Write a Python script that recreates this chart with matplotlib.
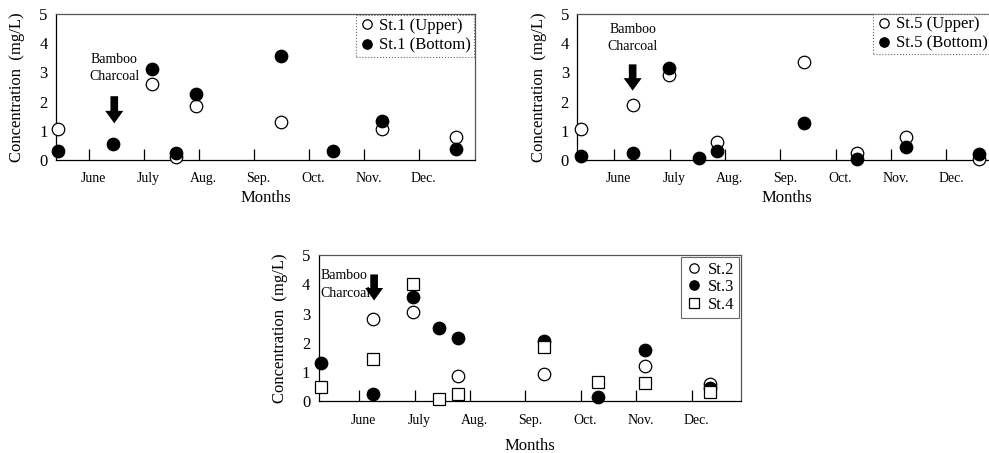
import numpy as np
import matplotlib
matplotlib.use("Agg")
import matplotlib.pyplot as plt

plt.rcParams['font.family'] = ['Liberation Serif', 'DejaVu Serif']

# month axis: tick i = start of month label i (June=1 ... Dec=7)
months = ['June', 'July', 'Aug.', 'Sep.', 'Oct.', 'Nov.', 'Dec.']

# St.1
x1 = [0.44, 1.43, 2.14, 2.59, 2.94, 4.49, 5.44, 6.33, 7.68]
st1_upper = [1.05, None, 2.6, 0.1, 1.85, 1.3, None, 1.05, 0.8]
st1_bottom = [0.3, 0.55, 3.1, 0.25, 2.25, 3.55, 0.3, 1.35, 0.38]

# St.5
x5 = [0.39, 1.33, 1.99, 2.53, 2.86, 4.43, 5.39, 6.27, 7.58]
st5_upper = [1.05, 1.9, 2.9, None, 0.6, 3.35, 0.25, 0.8, 0.05]
st5_bottom = [0.15, 0.25, 3.15, 0.08, 0.3, 1.25, 0.03, 0.45, 0.2]

# St.2 - St.4
x24 = [0.31, 1.25, 1.97, 2.44, 2.79, 4.34, 5.30, 6.16, 7.33]
st2 = [None, 2.8, 3.05, None, 0.85, 0.95, None, 1.22, 0.6]
st3 = [1.3, 0.25, 3.55, 2.5, 2.15, 2.05, 0.14, 1.75, 0.45]
st4 = [0.5, 1.45, 4.0, 0.08, 0.25, 1.85, 0.65, 0.64, 0.33]


def clean(x, y):
    xs = [a for a, b in zip(x, y) if b is not None]
    ys = [b for b in y if b is not None]
    return xs, ys


def setup(ax, xlim, xpad):
    ax.set_xlim(*xlim)
    ax.set_ylim(0, 5)
    ax.set_yticks(range(6))
    ax.tick_params(axis='y', length=0, labelsize=12, pad=6)
    ax.set_xticks(range(1, 8))
    ax.set_xticklabels([])
    ax.set_xticks([m + 0.08 for m in range(1, 8)], minor=True)
    ax.set_xticklabels(months, minor=True, fontsize=10)
    ax.tick_params(axis='x', which='major', direction='in', length=8, width=0.9)
    ax.tick_params(axis='x', which='minor', length=0, pad=9)
    for s in ax.spines.values():
        s.set_linewidth(0.9)
    ax.spines['top'].set_color('#555555')
    ax.spines['right'].set_color('#555555')
    ax.set_ylabel('Concentration  (mg/L)', fontsize=12, labelpad=10)
    ax.set_xlabel('Months', fontsize=12, labelpad=xpad)


def arrow(ax, x, y0, y1):
    ax.annotate('', xy=(x, y1), xytext=(x, y0),
                arrowprops=dict(arrowstyle='simple,head_width=1.3,head_length=0.9,tail_width=0.55',
                                color='black', lw=0))


fig = plt.figure(figsize=(9.89, 4.53), dpi=100)

mk = dict(linestyle='none', markersize=9, markeredgecolor='black', markeredgewidth=0.9, clip_on=False)

# panel 1
ax1 = fig.add_axes([0.0566, 0.6468, 0.4237, 0.3223])
setup(ax1, (0.4, 8.02), 3)
xs, ys = clean(x1, st1_upper)
ax1.plot(xs, ys, marker='o', markerfacecolor='white', label='St.1 (Upper)', zorder=3, **mk)
xs, ys = clean(x1, st1_bottom)
ax1.plot(xs, ys, marker='o', markerfacecolor='black', label='St.1 (Bottom)', zorder=4, **mk)
arrow(ax1, 1.46, 2.28, 1.16)
ax1.text(1.46, 3.15, 'Bamboo\nCharcoal', ha='center', va='center', fontsize=10, linespacing=1.4)
leg = ax1.legend(loc='upper right', fontsize=12, markerscale=0.75, handletextpad=0.2,
                 borderaxespad=0.05, fancybox=False, edgecolor='#444444',
                 borderpad=0.2, labelspacing=0.2, handlelength=1.0)
leg.get_frame().set_linestyle(':')
leg.get_frame().set_linewidth(0.8)

# panel 2
ax2 = fig.add_axes([0.5837, 0.6468, 0.4237, 0.3223])
setup(ax2, (0.33, 7.9), 3)
xs, ys = clean(x5, st5_upper)
ax2.plot(xs, ys, marker='o', markerfacecolor='white', label='St.5 (Upper)', zorder=3, **mk)
xs, ys = clean(x5, st5_bottom)
ax2.plot(xs, ys, marker='o', markerfacecolor='black', label='St.5 (Bottom)', zorder=4, **mk)
arrow(ax2, 1.33, 3.37, 2.28)
ax2.text(1.33, 4.17, 'Bamboo\nCharcoal', ha='center', va='center', fontsize=10, linespacing=1.4)
leg = ax2.legend(loc='upper right', bbox_to_anchor=(0.985, 1.0), fontsize=12, markerscale=0.75,
                 handletextpad=0.2, borderaxespad=0.0, fancybox=False, edgecolor='#444444',
                 borderpad=0.15, labelspacing=0.2, handlelength=1.0)
leg.get_frame().set_linestyle(':')
leg.get_frame().set_linewidth(0.8)

# panel 3
ax3 = fig.add_axes([0.3222, 0.1141, 0.4267, 0.323])
setup(ax3, (0.27, 7.88), 8)
xs, ys = clean(x24, st2)
ax3.plot(xs, ys, marker='o', markerfacecolor='white', label='St.2', zorder=3, **mk)
xs, ys = clean(x24, st3)
ax3.plot(xs, ys, marker='o', markerfacecolor='black', label='St.3', zorder=4, **mk)
xs, ys = clean(x24, st4)
ax3.plot(xs, ys, marker='s', markerfacecolor='white', label='St.4', zorder=5, **mk)
arrow(ax3, 1.27, 4.43, 3.35)
ax3.text(0.3, 4.0, 'Bamboo\nCharcoal', ha='left', va='center', fontsize=10, linespacing=1.5)
leg = ax3.legend(loc='upper right', fontsize=12, markerscale=0.75, handletextpad=0.3,
                 borderaxespad=0.1, fancybox=False, edgecolor='#444444',
                 borderpad=0.3, labelspacing=0.1, handlelength=1.0)
leg.get_frame().set_linewidth(0.8)

fig.savefig('out.png', dpi=100)
